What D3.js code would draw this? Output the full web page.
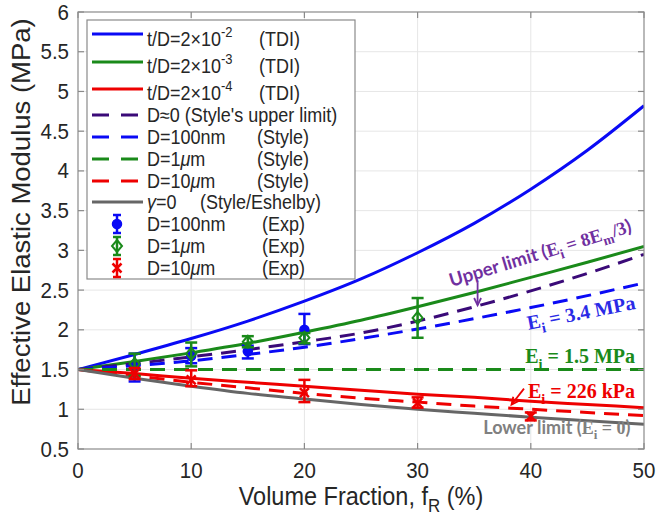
<!DOCTYPE html>
<html>
<head>
<meta charset="utf-8">
<script src="https://cdn.jsdelivr.net/npm/d3@7"></script>
<style>
  body { margin: 0; background: #fff; }
  svg { display: block; font-family: Arial, "Liberation Sans", sans-serif; }
</style>
</head>
<body>
<div id="graf"></div>
<script>
// Datos (fracción volumétrica en %, módulo en MPa)
const fracciones = [0, 5, 10, 15, 20, 25, 30, 35, 40, 45, 50]
const tdi2e2 = [1.5, 1.69, 1.89, 2.11, 2.36, 2.64, 2.97, 3.34, 3.77, 4.26, 4.82]
const tdi2e3 = [1.5, 1.6, 1.71, 1.83, 1.97, 2.12, 2.29, 2.47, 2.66, 2.85, 3.05]
const tdi2e4 = [1.5, 1.45, 1.39, 1.34, 1.29, 1.24, 1.19, 1.15, 1.1, 1.06, 1.02]
const styleUpper = [1.5, 1.575, 1.66, 1.75, 1.85, 1.96, 2.11, 2.29, 2.49, 2.71, 2.95]
const style100nm = [1.5, 1.55, 1.61, 1.69, 1.78, 1.89, 2.01, 2.14, 2.28, 2.43, 2.59]
const style1um = [1.5, 1.5, 1.5, 1.5, 1.5, 1.5, 1.5, 1.5, 1.5, 1.5, 1.5]
const style10um = [1.5, 1.42, 1.34, 1.27, 1.2, 1.14, 1.09, 1.04, 1.0, 0.96, 0.92]
const eshelby = [1.5, 1.39, 1.29, 1.2, 1.13, 1.06, 1.0, 0.95, 0.9, 0.855, 0.81]

// Datos experimentales
const exp100nmX = [5, 10, 15, 20]
const exp100nm = [1.53, 1.67, 1.73, 2.0]
const exp100nmLo = [1.35, 1.58, 1.64, 1.82]
const exp100nmHi = [1.7, 1.77, 1.8, 2.2]

const exp1umX = [5, 10, 15, 20, 30]
const exp1um = [1.57, 1.7, 1.85, 1.9, 2.15]
const exp1umLo = [1.42, 1.54, 1.78, 1.83, 1.9]
const exp1umHi = [1.7, 1.84, 1.92, 1.96, 2.4]

const exp10umX = [5, 10, 20, 30, 40]
const exp10um = [1.45, 1.37, 1.21, 1.08, 0.91]
const exp10umLo = [1.38, 1.29, 1.09, 1.02, 0.86]
const exp10umHi = [1.52, 1.49, 1.37, 1.15, 0.96]

// Ejes
const xTicks = [0, 10, 20, 30, 40, 50]
const yTicks = [0.5, 1, 1.5, 2, 2.5, 3, 3.5, 4, 4.5, 5, 5.5, 6]
const yTickLabels = ['0.5', '1', '1.5', '2', '2.5', '3', '3.5', '4', '4.5', '5', '5.5', '6']

// Leyenda: texto, superíndice, etiqueta
const leyendaTextos = [
  ['t/D=2×10', '-2', '(TDI)'],
  ['t/D=2×10', '-3', '(TDI)'],
  ['t/D=2×10', '-4', '(TDI)'],
  ["D≈0 (Style's upper limit)", '', ''],
  ['D=100nm', '', '(Style)'],
  ['D=1μm', '', '(Style)'],
  ['D=10μm', '', '(Style)'],
  ['γ=0', '', '(Style/Eshelby)'],
  ['D=100nm', '', '(Exp)'],
  ['D=1μm', '', '(Exp)'],
  ['D=10μm', '', '(Exp)']
]

const azul = '#0a0af5'
const verde = '#1a8a1a'
const rojo = '#ee0000'
const morado = '#3a0a78'
const gris = '#666666'

const margins = { top: 12, right: 12, bottom: 67, left: 78 }
const anchoTotal = 656
const altoTotal = 516
const ancho = anchoTotal - margins.left - margins.right
const alto = altoTotal - margins.top - margins.bottom

const svg = d3.select('#graf')
  .append('svg')
  .attr('width', anchoTotal)
  .attr('height', altoTotal)

const g = svg.append('g')
  .attr('transform', `translate(${margins.left}, ${margins.top})`)

// Escaladores
const x = d3.scaleLinear().domain([0, 50]).range([0, ancho])
const y = d3.scaleLinear().domain([0.5, 6]).range([alto, 0])

// Texto con estiramiento vertical (la figura original está algo estirada)
const texto = (parent, px, py, opts = {}) => {
  const { size = 20, anchor = 'start', rotate = 0, stretch = 1.1, weight = 'normal', family = null, fill = '#262626' } = opts
  const t = parent.append('g')
    .attr('transform', `translate(${px},${py}) scale(1,${stretch}) rotate(${rotate})`)
    .append('text')
    .attr('font-size', size)
    .attr('text-anchor', anchor)
    .attr('fill', fill)
    .attr('font-weight', weight)
  if (family) t.attr('font-family', family)
  return t
}

// Trozos con subíndice / superíndice
const partes = (t, lista) => {
  const base = +t.attr('font-size')
  let shift = 0
  lista.forEach((p) => {
    const target = p.sub ? 0.28 : p.sup ? -0.45 : 0
    const ts = t.append('tspan').text(p.s).attr('dy', (target - shift) * base)
    shift = target
    if (p.sub || p.sup) ts.attr('font-size', base * 0.72)
    if (p.it) ts.attr('font-style', 'italic')
    if (p.f) ts.attr('font-family', p.f)
  })
}

// Rejilla
g.append('rect').attr('width', ancho).attr('height', alto).attr('fill', 'white')

g.selectAll('.gx')
  .data(xTicks.slice(1, -1))
  .join('line')
  .attr('x1', (d) => x(d)).attr('x2', (d) => x(d))
  .attr('y1', 0).attr('y2', alto)
  .attr('stroke', '#e6e6e6').attr('stroke-width', 1)

g.selectAll('.gy')
  .data(yTicks.slice(1, -1))
  .join('line')
  .attr('y1', (d) => y(d)).attr('y2', (d) => y(d))
  .attr('x1', 0).attr('x2', ancho)
  .attr('stroke', '#e6e6e6').attr('stroke-width', 1)

// Curvas
g.append('clipPath').attr('id', 'clip')
  .append('rect').attr('width', ancho).attr('height', alto)

const curvas = [
  { v: tdi2e2, c: azul, dash: null },
  { v: tdi2e3, c: verde, dash: null },
  { v: tdi2e4, c: rojo, dash: null },
  { v: styleUpper, c: morado, dash: '15,9' },
  { v: style100nm, c: azul, dash: '15,9' },
  { v: style1um, c: verde, dash: '15,9' },
  { v: style10um, c: rojo, dash: '15,9' },
  { v: eshelby, c: gris, dash: null }
]

const linea = d3.line()
  .x((d, i) => x(fracciones[i]))
  .y((d) => y(d))
  .curve(d3.curveMonotoneX)

g.append('g').attr('clip-path', 'url(#clip)')
  .selectAll('path')
  .data(curvas)
  .join('path')
  .attr('d', (d) => linea(d.v))
  .attr('fill', 'none')
  .attr('stroke', (d) => d.c)
  .attr('stroke-width', 3)
  .attr('stroke-dasharray', (d) => d.dash)

// Marcadores
const marcador = (sel, tipo, color) => {
  if (tipo === 'circle') {
    sel.append('circle').attr('r', 4.5).attr('fill', color).attr('stroke', color).attr('stroke-width', 1.5)
  } else if (tipo === 'diamond') {
    sel.append('path').attr('d', 'M0,-6L5,0L0,6L-5,0Z').attr('fill', 'none').attr('stroke', color).attr('stroke-width', 2)
  } else {
    sel.append('path').attr('d', 'M-4.5,-4.5L4.5,4.5M-4.5,4.5L4.5,-4.5').attr('stroke', color).attr('stroke-width', 2.5)
  }
}

// Barras de error
const series = [
  { xs: exp100nmX, v: exp100nm, lo: exp100nmLo, hi: exp100nmHi, c: azul, m: 'circle' },
  { xs: exp1umX, v: exp1um, lo: exp1umLo, hi: exp1umHi, c: verde, m: 'diamond' },
  { xs: exp10umX, v: exp10um, lo: exp10umLo, hi: exp10umHi, c: rojo, m: 'x' }
]

series.forEach((s) => {
  s.xs.forEach((fx, i) => {
    const px = x(fx)
    const eg = g.append('g').attr('stroke', s.c).attr('stroke-width', 2.5)
    eg.append('line').attr('x1', px).attr('x2', px).attr('y1', y(s.lo[i])).attr('y2', y(s.hi[i]))
    eg.append('line').attr('x1', px - 6).attr('x2', px + 6).attr('y1', y(s.lo[i])).attr('y2', y(s.lo[i]))
    eg.append('line').attr('x1', px - 6).attr('x2', px + 6).attr('y1', y(s.hi[i])).attr('y2', y(s.hi[i]))
    marcador(g.append('g').attr('transform', `translate(${px},${y(s.v[i])})`), s.m, s.c)
  })
})

// Marco y marcas de eje
g.append('rect').attr('width', ancho).attr('height', alto)
  .attr('fill', 'none').attr('stroke', '#8a8a8a').attr('stroke-width', 1.2)

const tl = 6
const marcas = g.append('g').attr('stroke', '#8a8a8a').attr('stroke-width', 1.2)
xTicks.forEach((t) => {
  marcas.append('line').attr('x1', x(t)).attr('x2', x(t)).attr('y1', alto).attr('y2', alto - tl)
  marcas.append('line').attr('x1', x(t)).attr('x2', x(t)).attr('y1', 0).attr('y2', tl)
})
yTicks.forEach((t) => {
  marcas.append('line').attr('y1', y(t)).attr('y2', y(t)).attr('x1', 0).attr('x2', tl)
  marcas.append('line').attr('y1', y(t)).attr('y2', y(t)).attr('x1', ancho).attr('x2', ancho - tl)
})

// Etiquetas de ejes
xTicks.forEach((t) => {
  texto(g, x(t), alto + 29, { size: 20.5, anchor: 'middle', stretch: 1.08 }).text(t)
})
yTicks.forEach((t, i) => {
  texto(g, -9, y(t) + 7.5, { size: 20.5, anchor: 'end', stretch: 1.08 }).text(yTickLabels[i])
})

const xt = texto(svg, margins.left + ancho / 2, 505, { size: 23.5, anchor: 'middle', stretch: 1.1 })
partes(xt, [{ s: 'Volume Fraction, f' }, { s: 'R', sub: true }, { s: ' (%)' }])

texto(svg, 30, 212, { size: 25, anchor: 'middle', rotate: -90, stretch: 1.1 })
  .text('Effective Elastic Modulus (MPa)')

// Leyenda
const leyenda = svg.append('g')
leyenda.append('rect')
  .attr('x', 87).attr('y', 20).attr('width', 268).attr('height', 259)
  .attr('fill', 'white').attr('stroke', '#8a8a8a').attr('stroke-width', 1.2)

const filasY = [39, 66, 93, 115, 137, 159, 181, 202, 224, 246, 268]
const lineasY = [34, 62, 89, 115, 137, 159, 181, 202, 224, 246, 268]
const etiquetaX = [259, 259, 259, 0, 257, 257, 257, 200, 262, 262, 262]

leyendaTextos.forEach((d, i) => {
  const ly = lineasY[i]
  if (i < 8) {
    leyenda.append('line')
      .attr('x1', 92).attr('x2', 143).attr('y1', ly).attr('y2', ly)
      .attr('stroke', curvas[i].c).attr('stroke-width', 3)
      .attr('stroke-dasharray', curvas[i].dash ? '17,12' : null)
  } else {
    const s = series[i - 8]
    const lg = leyenda.append('g').attr('stroke', s.c).attr('stroke-width', 2.5)
    lg.append('line').attr('x1', 117).attr('x2', 117).attr('y1', ly - 9).attr('y2', ly + 9)
    lg.append('line').attr('x1', 113).attr('x2', 121).attr('y1', ly - 9).attr('y2', ly - 9)
    lg.append('line').attr('x1', 113).attr('x2', 121).attr('y1', ly + 9).attr('y2', ly + 9)
    marcador(leyenda.append('g').attr('transform', `translate(117,${ly})`), s.m, s.c)
  }

  const t = texto(leyenda, 147, filasY[i] + 7, { size: 18, stretch: 1.1 })
  if (d[0].startsWith('γ')) {
    partes(t, [{ s: 'γ', it: true }, { s: '=0' }])
  } else if (d[0].includes('μ')) {
    const [a, b] = d[0].split('μ')
    partes(t, [{ s: a }, { s: 'μ', it: true }, { s: b }])
  } else if (d[1]) {
    partes(t, [{ s: d[0] }, { s: d[1], sup: true }])
  } else {
    t.text(d[0])
  }
  if (d[2]) texto(leyenda, etiquetaX[i], filasY[i] + 7, { size: 18, stretch: 1.1 }).text(d[2])
})

// Anotaciones
const serif = '"Liberation Serif", "DejaVu Serif", serif'
const lato = 'Lato, "Open Sans", sans-serif'

const up = texto(g, x(33.0), y(2.54), { size: 18.5, rotate: -17, stretch: 1, weight: 'bold', fill: '#7030a0', family: lato })
partes(up, [
  { s: 'Upper limit (' },
  { s: 'E', f: serif }, { s: 'i', sub: true, f: serif },
  { s: ' = 8E', f: serif }, { s: 'm', sub: true, f: serif },
  { s: '/3', f: serif }, { s: ')' }
])

// Flechas
const flecha = (x1, y1, x2, y2, color) => {
  const ang = Math.atan2(y2 - y1, x2 - x1)
  const a = 8
  const fg = g.append('g').attr('stroke', color).attr('stroke-width', 1.8).attr('fill', 'none')
  fg.append('line').attr('x1', x1).attr('y1', y1).attr('x2', x2).attr('y2', y2)
  fg.append('path').attr('d', `M${x2 - a * Math.cos(ang - 0.45)},${y2 - a * Math.sin(ang - 0.45)}L${x2},${y2}L${x2 - a * Math.cos(ang + 0.45)},${y2 - a * Math.sin(ang + 0.45)}`)
}
flecha(x(35.3), y(2.6), x(35.3), y(2.31), '#7030a0')
flecha(x(39.4), y(1.26), x(38.3), y(1.06), rojo)

const e34 = texto(g, x(39.8), y(2.0), { size: 20, rotate: -11, stretch: 1, weight: 'bold', fill: '#2a2ae6', family: serif })
partes(e34, [{ s: 'E' }, { s: 'i', sub: true }, { s: ' = 3.4 MPa' }])

const e15 = texto(g, x(39.5), y(1.58), { size: 20, stretch: 1, weight: 'bold', fill: verde, family: serif })
partes(e15, [{ s: 'E' }, { s: 'i', sub: true }, { s: ' = 1.5 MPa' }])

const e226 = texto(g, x(39.75), y(1.14), { size: 20, stretch: 1, weight: 'bold', fill: rojo, family: serif })
partes(e226, [{ s: 'E' }, { s: 'i', sub: true }, { s: ' = 226 kPa' }])

const low = texto(g, x(35.8), y(0.69), { size: 18, stretch: 1, weight: 'bold', fill: '#808080', family: lato })
partes(low, [
  { s: 'Lower limit (' },
  { s: 'E', f: serif }, { s: 'i', sub: true, f: serif },
  { s: ' = 0', f: serif }, { s: ')' }
])
</script>
</body>
</html>
